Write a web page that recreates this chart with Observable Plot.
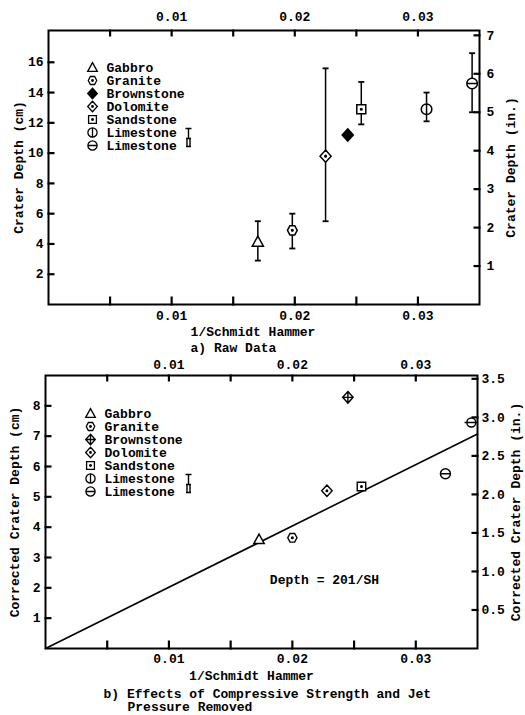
<!DOCTYPE html>
<html><head><meta charset="utf-8">
<script src="https://cdn.jsdelivr.net/npm/d3@7"></script>
<script src="https://cdn.jsdelivr.net/npm/@observablehq/plot@0.6"></script>
<style>
html,body{margin:0;padding:0;background:#fff;}
#chart{width:525px;}
#chart svg{display:block;}
</style></head><body><div id="chart"></div>
<script>
// ---------- data ----------
const materials = ["Gabbro", "Granite", "Brownstone", "Dolomite", "Sandstone", "Limestone", "Limestone"];
const legendSymbolsRaw = ["triangle", "hexDot", "diamondFilled", "diamondDot", "squareDot", "circleV", "circleH"];
const legendSymbolsCorr = ["triangle", "hexDot", "diamondPlus", "diamondDot", "squareDot", "circleV", "circleH"];

// a) raw data (cm)
const rawX = [0.0170, 0.0198, 0.0243, 0.0225, 0.0254, 0.0307, 0.0344];
const rawY = [4.15, 4.9, 11.2, 9.8, 12.9, 12.9, 14.6];
const rawLo = [2.9, 3.7, null, 5.5, 11.9, 12.1, 12.7];
const rawHi = [5.5, 6.0, null, 15.6, 14.7, 14.0, 16.6];
const rawSym = ["triangle", "hexDot", "diamondFilled", "diamondDot", "squareDot", "circleV", "circleH"];

// b) corrected (cm)
const corrX = [0.0173, 0.0200, 0.0245, 0.0228, 0.0256, 0.0324, 0.0345];
const corrY = [3.6, 3.65, 8.28, 5.2, 5.34, 5.76, 7.45];
const corrSym = ["triangle", "hexDot", "diamondPlus", "diamondDot", "squareDot", "circleH", "circleHX"];

// fit line Depth = 201/SH (end points)
const fitX = [0, 0.035];
const fitY = [0, 7.07];
const annText = "Depth = 201/SH";
const annX = [0.0226];
const annY = [2.27];

// axes extents and ticks
const xDomain = [0, 0.035];
const rawYDomain = [0, 18.1];
const corrYDomain = [0, 9];
const xMinorTicks = [0.005, 0.01, 0.015, 0.02, 0.025, 0.03];
const xLabelTicks = [0.01, 0.02, 0.03];
const rawCmTicks = [2, 4, 6, 8, 10, 12, 14, 16];
const rawInTicks = [1, 2, 3, 4, 5, 6, 7];
const corrCmTicks = [1, 2, 3, 4, 5, 6, 7, 8];
const corrInTicks = [0.5, 1.0, 1.5, 2.0, 2.5, 3.0, 3.5];
const CM_PER_IN = 2.54;

// ---------- symbols ----------
const R = s => Math.sqrt(s / Math.PI);
function centerDot(c) { c.moveTo(0.8, 0); c.arc(0, 0, 0.8, 0, 2 * Math.PI); }
function diamond(c, r) { c.moveTo(0, -r * 1.15); c.lineTo(r * 1.05, 0); c.lineTo(0, r * 1.15); c.lineTo(-r * 1.05, 0); c.closePath(); }
const seg = (x1, y1, x2, y2) => ({draw(c) { c.moveTo(x1, y1); c.lineTo(x2, y2); }});
const SYM = {
  triangle: {draw(c, s) { const r = R(s); c.moveTo(0, -r * 1.05); c.lineTo(r * 1.05, r * 0.85); c.lineTo(-r * 1.05, r * 0.85); c.closePath(); }},
  hexDot: {draw(c, s) { const r = R(s); for (let i = 0; i < 6; i++) { const a = i * Math.PI / 3; const px = r * Math.cos(a) * 0.92, py = r * Math.sin(a); i ? c.lineTo(px, py) : c.moveTo(px, py); } c.closePath(); centerDot(c); }},
  diamondFilled: {draw(c, s) { const r = R(s); diamond(c, r); }},
  diamondPlus: {draw(c, s) { const r = R(s); diamond(c, r); c.moveTo(0, -r * 1.15); c.lineTo(0, r * 1.15); c.moveTo(-r * 1.05, 0); c.lineTo(r * 1.05, 0); }},
  diamondDot: {draw(c, s) { const r = R(s); diamond(c, r); centerDot(c); }},
  squareDot: {draw(c, s) { const r = R(s) * 0.85; c.rect(-r, -r, 2 * r, 2 * r); centerDot(c); }},
  circleV: {draw(c, s) { const r = R(s); c.moveTo(r, 0); c.arc(0, 0, r, 0, 2 * Math.PI); c.moveTo(0, -r); c.lineTo(0, r); }},
  circleH: {draw(c, s) { const r = R(s); c.moveTo(r, 0); c.arc(0, 0, r, 0, 2 * Math.PI); c.moveTo(-r, 0); c.lineTo(r, 0); }},
  circleHX: {draw(c, s) { const r = R(s) * 0.9; c.moveTo(r, 0); c.arc(0, 0, r, 0, 2 * Math.PI); c.moveTo(-r * 1.5, 0); c.lineTo(r * 1.5, 0); }},
  cap: seg(-3, 0, 3, 0),
  tickUp: seg(0, 1, 0, -8),
  tickDown: seg(0, -1, 0, 6),
  tickRight: seg(-1, 0, 6, 0),
  tickLeft: seg(1, 0, -6, 0),
  errGlyph: {draw(c) { c.moveTo(-3, -10); c.lineTo(3, -10); c.moveTo(0, -10); c.lineTo(0, 0); c.moveTo(-2.5, 0); c.lineTo(2.5, 0); c.moveTo(-1.5, 0); c.lineTo(-1.5, 8); c.moveTo(1.5, 0); c.lineTo(1.5, 8); c.moveTo(-2.5, 8); c.lineTo(2.5, 8); }}
};

const FONT = "'Liberation Mono', 'DejaVu Sans Mono', monospace";
const style = {fontFamily: FONT, fontSize: "13px", fontWeight: "bold", color: "#000", background: "#fff", overflow: "visible"};
const fmtX = d3.format(".2f");

// frame, inward tick marks and tick labels
function commonAxes(yDomain, cmTicks, inTicks, inFmt, o) {
  const inCm = inTicks.map(v => v * CM_PER_IN);
  const tk = {stroke: "#000", strokeWidth: 2.2, fill: "none", r: 4};
  const top = xMinorTicks.map(x => ({x, y: yDomain[1]}));
  const bottom = xMinorTicks.map(x => ({x, y: yDomain[0]}));
  const left = cmTicks.map(y => ({x: xDomain[0], y}));
  const right = inCm.map(y => ({x: xDomain[1], y}));
  return [
    Plot.frame({stroke: "#000", strokeWidth: 2, fill: "none"}),
    Plot.dot(top, {x: "x", y: "y", symbol: SYM.tickDown, ...tk}),
    Plot.dot(bottom, {x: "x", y: "y", symbol: SYM.tickUp, ...tk}),
    Plot.dot(left, {x: "x", y: "y", symbol: SYM.tickRight, ...tk}),
    Plot.dot(right, {x: "x", y: "y", symbol: SYM.tickLeft, ...tk}),
    Plot.axisX(xLabelTicks, {anchor: "top", tickSize: 0, tickPadding: o.topPad, tickFormat: fmtX, label: null}),
    Plot.axisX(xLabelTicks, {anchor: "bottom", tickSize: 0, tickPadding: o.botPad, tickFormat: fmtX, label: null}),
    Plot.axisY(cmTicks, {anchor: "left", tickSize: 0, tickPadding: 5, tickFormat: d => String(d), label: null}),
    Plot.axisY(inCm, {anchor: "right", tickSize: 0, tickPadding: o.rightPad, tickFormat: (d, i) => inFmt(inTicks[i]), label: null})
  ];
}

function legend(symbolKeys, o) {
  const marks = [];
  materials.forEach((m, i) => {
    marks.push(Plot.dot([m], {frameAnchor: "top-left", dx: o.symDx, dy: o.rowDy + 13 * i, r: 4.6,
      symbol: SYM[symbolKeys[i]], stroke: "#000", strokeWidth: 1.3, fill: symbolKeys[i] === "diamondFilled" ? "#000" : "#fff"}));
    marks.push(Plot.text([m], {frameAnchor: "top-left", dx: o.txtDx, dy: o.rowDy + 13 * i, textAnchor: "start", lineAnchor: "middle", text: d => d, fill: "#000"}));
  });
  marks.push(Plot.dot([0], {frameAnchor: "top-left", dx: o.glyphDx, dy: o.rowDy + 13 * 5 + 6, symbol: SYM.errGlyph, r: 5, stroke: "#000", strokeWidth: 1.4, fill: "none"}));
  return marks;
}

const T = (s, opts) => Plot.text([s], {text: d => d, lineAnchor: "middle", fill: "#000", ...opts});

// ---------- a) raw data ----------
const rawRows = rawX.map((x, i) => ({x, y: rawY[i], lo: rawLo[i], hi: rawHi[i], sym: rawSym[i]}));
const rawBars = rawRows.filter(d => d.lo != null);

const plotA = Plot.plot({
  width: 525, height: 355,
  marginTop: 30, marginBottom: 51, marginLeft: 48, marginRight: 46,
  x: {domain: xDomain},
  y: {domain: rawYDomain},
  style,
  marks: [
    ...commonAxes(rawYDomain, rawCmTicks, rawInTicks, d => String(d), {topPad: 10, botPad: 6, rightPad: 7}),
    Plot.ruleX(rawBars, {x: "x", y1: "lo", y2: "hi", stroke: "#000", strokeWidth: 1.5}),
    Plot.dot(rawBars, {x: "x", y: "lo", symbol: SYM.cap, stroke: "#000", strokeWidth: 1.8}),
    Plot.dot(rawBars, {x: "x", y: "hi", symbol: SYM.cap, stroke: "#000", strokeWidth: 1.8}),
    ...rawRows.map(d => Plot.dot([d], {x: "x", y: "y", r: 5.3, symbol: SYM[d.sym], stroke: "#000", strokeWidth: 1.5, fill: d.sym === "diamondFilled" ? "#000" : "#fff"})),
    ...legend(legendSymbolsRaw, {symDx: 44, txtDx: 58, rowDy: 37, glyphDx: 140}),
    T("Crater Depth (cm)", {frameAnchor: "left", textAnchor: "middle", rotate: -90, dx: -30}),
    T("Crater Depth (in.)", {frameAnchor: "right", textAnchor: "middle", rotate: -90, dx: 31}),
    T("1/Schmidt Hammer", {frameAnchor: "bottom", textAnchor: "middle", dx: -11, dy: 27}),
    T("a) Raw Data", {frameAnchor: "bottom-left", textAnchor: "start", dx: 142, dy: 43})
  ]
});

// ---------- b) corrected ----------
const corrRows = corrX.map((x, i) => ({x, y: corrY[i], sym: corrSym[i]}));
const fitRows = fitX.map((x, i) => ({x, y: fitY[i]}));

const plotB = Plot.plot({
  width: 525, height: 360,
  marginTop: 20, marginBottom: 67, marginLeft: 45, marginRight: 48,
  x: {domain: xDomain},
  y: {domain: corrYDomain},
  style,
  marks: [
    ...commonAxes(corrYDomain, corrCmTicks, corrInTicks, d => d.toFixed(1), {topPad: 7, botPad: 5, rightPad: 4}),
    Plot.line(fitRows, {x: "x", y: "y", stroke: "#000", strokeWidth: 1.6}),
    ...corrRows.map(d => Plot.dot([d], {x: "x", y: "y", r: 5, symbol: SYM[d.sym], stroke: "#000", strokeWidth: 1.4, fill: "#fff"})),
    Plot.text([annText], {x: annX, y: annY, text: d => d, fill: "#000"}),
    ...legend(legendSymbolsCorr, {symDx: 45, txtDx: 59, rowDy: 38, glyphDx: 143}),
    T("Corrected Crater Depth (cm)", {frameAnchor: "left", textAnchor: "middle", rotate: -90, dx: -31}),
    T("Corrected Crater Depth (in.)", {frameAnchor: "right", textAnchor: "middle", rotate: -90, dx: 38}),
    T("1/Schmidt Hammer", {frameAnchor: "bottom", textAnchor: "middle", dx: -10, dy: 27}),
    T("b) Effects of Compressive Strength and Jet", {frameAnchor: "bottom-left", textAnchor: "start", dx: 58, dy: 45}),
    T("Pressure Removed", {frameAnchor: "bottom-left", textAnchor: "start", dx: 82, dy: 58})
  ]
});

const el = document.getElementById("chart");
el.appendChild(plotA);
el.appendChild(plotB);
</script></body></html>
